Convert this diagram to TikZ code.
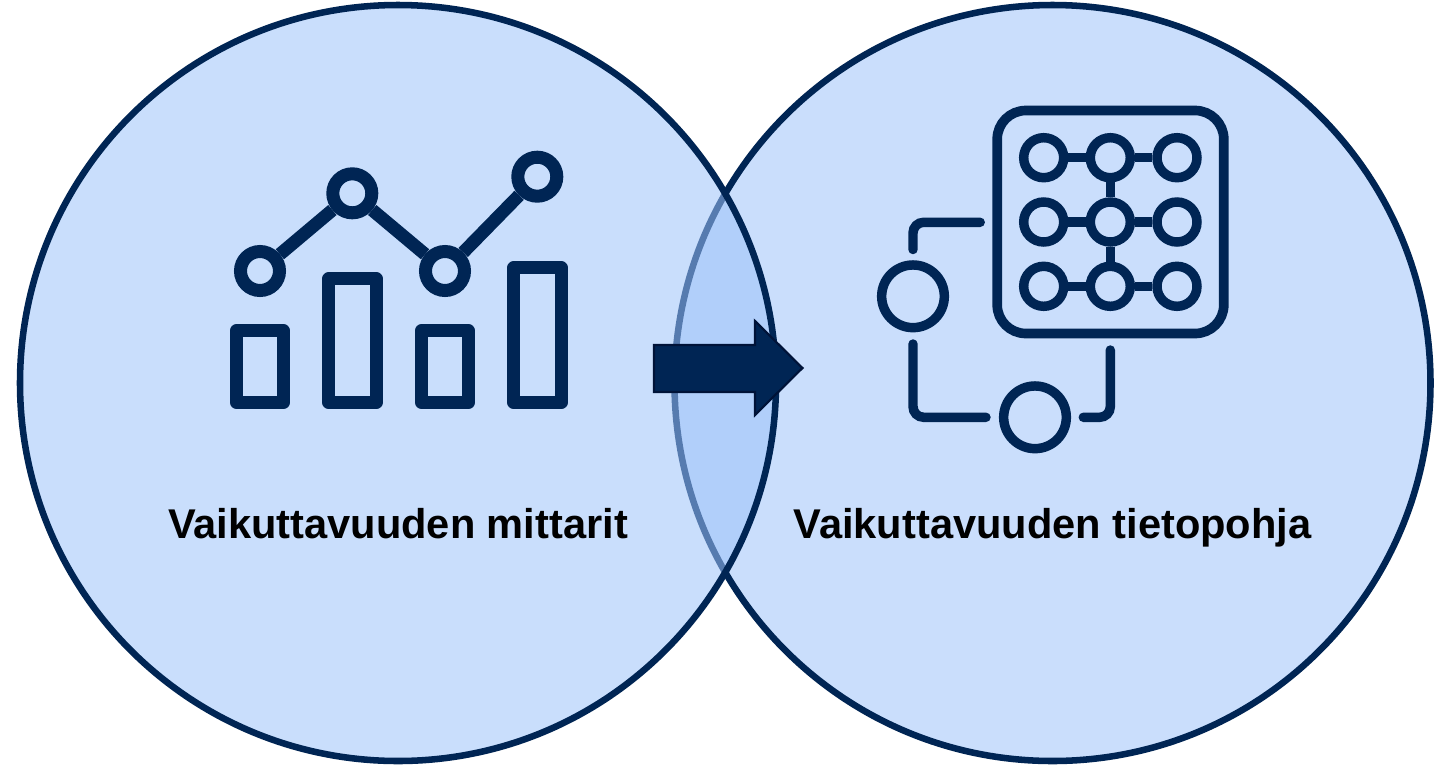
\documentclass[tikz,border=0pt]{standalone}
\usepackage{fontspec}
\setmainfont{Liberation Sans}
\definecolor{navy}{HTML}{002554}
\definecolor{arrowedge}{HTML}{001338}
\definecolor{discfill}{HTML}{CADEFC}
\definecolor{overlayfill}{HTML}{9EC3FA}
\tikzset{
  disc/.style={circle,draw=navy,line width=4.9pt,minimum size=567pt,inner sep=0pt},
  chartring/.style={circle,draw=navy,line width=9.75pt,minimum size=29.25pt,inner sep=0pt},
  gridring/.style={circle,draw=navy,line width=7.1pt,minimum size=30pt,inner sep=0pt},
  bigring/.style={circle,draw=navy,line width=7.1pt,minimum size=47pt,inner sep=0pt},
  chartline/.style={draw=navy,line width=9.75pt},
  gridline/.style={draw=navy,line width=7.1pt},
  bar/.style={draw=navy,line width=9.75pt,line join=round},
  wire/.style={draw=navy,line width=7.1pt,line cap=round,rounded corners=8pt},
  caption/.style={font=\fontsize{31.2pt}{36pt}\selectfont\bfseries,text=black,anchor=base,inner sep=0pt}
}
\begin{document}
\begin{tikzpicture}[x=0.75pt,y=-0.75pt]
\useasboundingbox (0,0) rectangle (1440,765);
\fill[white] (0,0) rectangle (1440,765);
% discs
\node[disc,fill=discfill] (right) at (1052.5,383) {};
\node[disc,fill=overlayfill,fill opacity=.55] (left) at (398,383) {};
% arrow
\draw[fill=navy,draw=arrowedge,line width=1.6pt,miter limit=10]
  (654,345) -- (755,345) -- (755,321) -- (802.5,368) -- (755,415) -- (755,392) -- (654,392) -- cycle;
% chart icon
\draw[bar] (236.5,330.8) rectangle (283.5,402.5);
\draw[bar] (328.8,278.8) rectangle (376.2,402.5);
\draw[bar] (421.5,330.8) rectangle (468.5,402.5);
\draw[bar] (513.8,267.8) rectangle (561.2,402.5);
\node[chartring] (p1) at (260,271) {};
\node[chartring] (p2) at (352.3,193.3) {};
\node[chartring] (p3) at (445,271) {};
\node[chartring] (p4) at (537.3,176.7) {};
\draw[chartline] (p1) -- (p2);
\draw[chartline] (p2) -- (p3);
\draw[chartline] (p3) -- (p4);
% network icon
\draw[draw=navy,line width=7.25pt,rounded corners=21.5pt] (997.2,110.5) rectangle (1223.8,333.5);
\foreach \r/\y in {a/157.7,b/222,c/286.3}{
  \node[gridring] (\r1) at (1043.7,\y) {};
  \node[gridring] (\r2) at (1110.3,\y) {};
  \node[gridring] (\r3) at (1177,\y) {};
  \draw[gridline] (\r1) -- (\r2);
  \draw[gridline] (\r2) -- (\r3);
}
\draw[gridline] (a2) -- (b2);
\draw[gridline] (b2) -- (c2);
\node[bigring] (n1) at (913,296.3) {};
\node[bigring] (n2) at (1035,417.3) {};
\coordinate (w1a) at (913,249.5);
\coordinate (w1b) at (980.2,222.3);
\coordinate (w2a) at (913,344);
\coordinate (w2b) at (986,417.3);
\coordinate (w3a) at (1110.3,350);
\coordinate (w3b) at (1083.3,417.3);
\draw[wire] (w1a) |- (w1b);
\draw[wire] (w2a) |- (w2b);
\draw[wire] (w3a) |- (w3b);
% captions
\node[caption] (cap1) at (398,538) {Vaikuttavuuden mittarit};
\node[caption] (cap2) at (1052.5,538) {Vaikuttavuuden tietopohja};
\end{tikzpicture}
\end{document}
